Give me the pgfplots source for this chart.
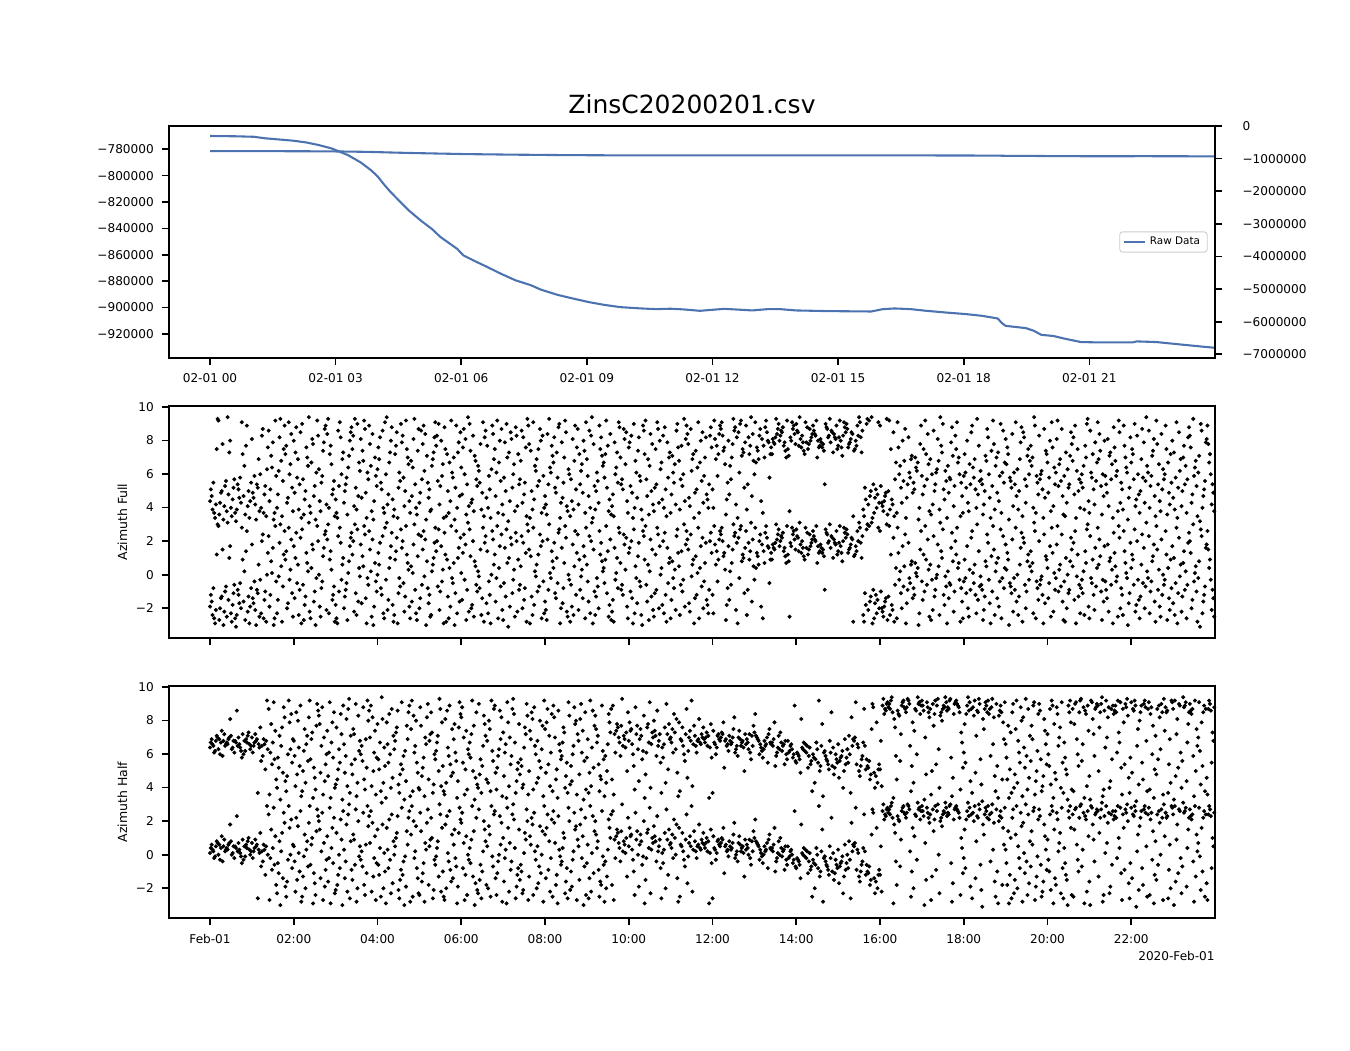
\documentclass[border=0pt]{standalone}
\usepackage{fontspec}
\setmainfont{DejaVu Sans}
\usepackage{pgfplots}
\usepackage{pgfplotstable}
\pgfplotsset{compat=1.18}
\definecolor{lineblue}{HTML}{4C72B0}

\pgfplotstableread{
h v
0.00 -769900
0.60 -770100
1.05 -770500
1.30 -771600
1.60 -772400
2.00 -773500
2.30 -774800
2.60 -776800
2.90 -779300
3.05 -781200
3.30 -784500
3.60 -790000
3.85 -796000
4.00 -800500
4.15 -806500
4.30 -812000
4.50 -818500
4.75 -826500
5.05 -834500
5.30 -840500
5.50 -846500
5.70 -851000
5.90 -855500
6.05 -860500
6.30 -864500
6.60 -869000
6.95 -874500
7.30 -879500
7.65 -883000
7.90 -886500
8.30 -890500
8.70 -893500
9.05 -896000
9.40 -898000
9.80 -899800
10.30 -900800
10.65 -901300
11.00 -901000
11.30 -901500
11.70 -902600
12.00 -901800
12.28 -901100
12.57 -901600
12.95 -902300
13.32 -901300
13.61 -901300
13.99 -902300
14.74 -902800
15.79 -903100
16.07 -901300
16.35 -900800
16.73 -901300
17.11 -902600
17.58 -903900
18.06 -905100
18.44 -906400
18.81 -908400
18.91 -911900
19.00 -914000
19.48 -915700
19.67 -917700
19.85 -920800
20.14 -921700
20.42 -923800
20.80 -926300
21.27 -926600
22.03 -926600
22.13 -925800
22.60 -926300
23.07 -927800
23.64 -929600
23.98 -930600
}\rawdata

% Azimuth Full: ten samples per row, one row = 0.2 h
\pgfplotstableread{
c0 c1 c2 c3 c4 c5 c6 c7 c8 c9
-2.4 -2.1 -1.9 3.0 -2.6 -1.2 1.2 -0.8 -2.9 -1.6
-1.4 -2.2 2.9 -0.7 1.5 -2.7 -1.0 -1.3 -3.0 -2.0
1.0 -1.8 -2.5 -0.6 -2.3 3.1 -1.1 1.7 -2.8 -1.5
-0.9 -2.0 -2.6 0.9 -1.7 -3.1 2.8 -1.2 -0.5 -2.4
1.4 -2.9 -1.6 -0.8 -2.2 0.2 -1.9 2.6 -1.3 -2.7
-0.4 -1.1 1.8 -2.5 -3.0 -1.4 0.6 -2.1 -0.9 -1.7
2.4 -2.8 -0.3 1.3 -1.5 -2.3 0.0 -2.6 -1.0 2.0
0.8 -2.6 2.3 -0.4 1.6 -1.9 2.9 0.1 -3.0 -1.2
1.9 -0.7 -2.3 2.6 0.5 -1.5 1.2 3.0 -2.8 -0.1
-1.7 2.1 0.9 -2.5 -0.3 1.4 -1.1 2.8 0.3 -2.0
2.5 -0.9 1.7 -2.9 0.6 -1.4 2.2 -0.5 -2.4 1.0
-1.8 0.2 2.7 -2.2 1.3 -0.6 3.1 -1.3 0.7 -2.7
1.5 -0.2 -2.6 2.0 -1.0 0.4 2.9 -1.6 -3.0 1.8
-0.8 2.4 0.0 -2.1 1.1 -1.9 2.6 -0.4 1.6 -2.5
0.9 -1.2 2.1 -2.8 0.3 3.0 -0.7 1.4 -1.5 -2.3
2.3 -0.3 -1.8 1.0 2.8 -2.6 0.6 -1.0 1.9 -2.9
-0.5 1.7 -2.0 2.5 0.1 -1.3 2.2 -2.7 0.8 -0.9
3.0 -1.6 1.2 -0.1 -2.4 2.0 0.4 -1.1 2.7 -2.2
0.5 -2.9 1.8 -0.6 2.4 -1.7 -0.2 2.9 -1.4 1.1
-2.5 0.7 2.6 -1.0 -3.0 1.5 -0.4 2.1 -1.9 0.2
1.9 -2.3 0.0 2.8 -1.2 1.3 -2.6 -0.8 2.3 0.6
-1.5 2.5 -0.3 -2.8 1.0 3.1 -1.8 0.4 1.7 -2.1
2.2 -0.7 -2.4 1.6 -1.1 0.9 2.7 -2.9 -0.2 1.4
-1.3 0.3 2.0 -2.6 1.2 -0.5 -1.9 2.9 0.7 -2.2
1.8 -2.7 0.5 2.4 -0.9 -1.6 1.1 3.0 -2.3 0.1
-0.6 2.1 -2.0 0.8 2.6 -1.4 -3.0 1.5 -0.1 2.3
-2.5 1.0 -0.8 2.8 0.2 -1.7 1.9 -2.4 0.6 -1.2
2.7 -0.4 1.4 -2.9 -1.0 2.0 0.3 -2.1 1.7 -0.7
0.9 -1.9 2.5 -0.2 -2.6 1.2 2.9 -1.3 0.4 -2.8
-1.1 1.6 -0.5 2.2 -2.3 0.7 -1.6 2.6 1.0 -3.0
2.4 -0.9 0.1 -2.2 1.8 -1.5 3.1 -0.3 -2.7 1.3
-1.8 0.5 2.7 -1.0 -2.5 1.1 -0.6 2.0 0.8 -2.0
1.5 -2.8 0.2 2.3 -1.4 -0.1 1.9 -2.4 2.8 -0.8
-0.4 2.6 -1.7 0.6 -2.9 1.4 2.1 -1.2 0.0 -2.3
2.9 -0.7 1.2 -2.1 0.4 -1.6 2.4 -2.6 1.7 -0.2
-1.3 1.0 -2.7 2.2 0.7 -0.5 -1.9 2.7 -3.1 1.6
0.3 -2.2 1.8 -0.9 2.5 -1.1 0.9 -2.5 2.0 -0.3
-2.0 1.3 -0.6 3.0 -1.5 0.5 -2.8 1.9 -0.8 2.3
1.1 -1.8 2.6 -0.1 -2.4 1.5 0.2 -1.3 2.8 -2.9
-0.7 2.0 0.6 -2.3 1.7 -1.0 -0.4 2.4 -2.6 1.2
2.1 -0.2 -1.6 0.8 3.0 -2.1 1.4 -0.9 0.1 -2.7
-1.4 2.7 0.4 -2.0 -0.5 1.9 -2.9 1.0 2.5 -1.1
0.7 -2.5 1.6 -0.3 2.2 -1.7 0.0 2.9 -2.2 -0.8
1.8 -1.2 -2.8 2.4 0.5 -0.6 1.3 -2.4 2.6 -1.9
-0.1 1.1 -2.1 2.8 -1.4 0.9 -2.6 0.3 1.7 -0.9
2.3 -2.9 0.6 -1.0 2.0 -0.4 1.5 -2.3 3.1 -1.6
-0.7 1.9 -2.4 0.2 2.6 -1.3 0.8 -2.0 1.2 -0.2
2.9 -1.8 0.4 -2.7 1.4 -0.5 2.1 -1.1 -2.5 0.9
1.6 -0.8 -2.2 2.5 0.1 -1.5 2.8 -0.3 1.0 -2.8
-1.2 2.2 0.7 -2.6 1.8 -0.9 -1.9 2.4 0.3 -0.6
2.0 -2.3 1.3 -0.2 -2.9 1.6 0.5 -1.4 2.7 -1.0
-0.4 2.6 -1.7 0.9 -2.4 1.1 2.3 -0.7 -3.0 1.9
0.6 -1.3 2.9 -2.1 0.2 -0.6 1.5 -2.7 2.1 -1.6
-0.9 1.7 -2.5 0.4 2.4 -1.1 0.0 2.8 -2.0 1.2
2.5 -0.5 -1.8 1.0 -2.8 2.0 0.7 -1.2 1.6 -2.3
-0.2 2.3 -2.6 1.3 0.3 -1.5 2.7 -0.8 -2.1 0.8
1.4 -1.9 0.5 2.6 -0.3 -2.4 1.8 -1.0 3.0 -0.6
-2.2 0.9 2.1 -1.4 -0.1 1.5 -2.9 2.4 0.6 -1.7
2.8 -0.7 1.1 -2.0 0.4 -1.2 2.2 -2.6 1.7 0.1
-1.5 2.0 -0.4 1.3 -2.3 0.7 2.5 -1.8 -0.9 1.9
1.8 0.9 -1.2 2.6 1.4 -2.3 2.1 0.6 -0.4 2.9
1.1 -1.8 2.4 1.7 0.3 2.8 -0.8 1.3 -2.7 2.0
0.7 2.5 -1.5 1.9 3.0 0.2 -2.1 1.5 2.3 -0.6
2.7 1.0 -2.9 1.6 0.8 2.2 -1.1 2.9 1.2 -0.2
1.9 -1.6 2.6 0.5 1.4 -2.4 2.1 0.9 3.1 -0.9
1.3 2.4 -0.3 1.8 0.6 2.8 -1.9 1.1 2.0 0.4
2.5 1.6 -2.6 0.9 2.2 1.4 -0.5 2.9 1.7 0.7
1.6 2.1 1.3 2.7 1.9 0.9 2.4 1.5 3.0 1.8
2.2 1.1 1.7 2.9 1.4 2.0 0.7 2.5 1.6 2.3
1.9 2.6 1.2 1.5 2.8 0.8 2.1 1.7 2.4 -2.5
1.4 2.0 2.7 1.1 1.8 2.3 1.6 3.1 1.3 2.2
2.5 1.7 0.9 2.1 1.5 2.8 1.9 1.2 2.4 1.6
2.0 1.3 2.6 1.8 0.7 2.3 1.4 2.9 1.7 2.1
1.1 2.4 1.6 2.0 2.7 1.3 1.9 -0.9 2.5 1.5
2.2 1.8 3.0 1.2 2.1 1.6 2.6 1.0 1.9 2.3
1.7 2.8 1.4 2.2 0.8 1.9 2.5 1.3 2.0 2.9
1.5 2.1 2.7 1.1 1.8 2.4 -2.8 1.6 2.2 1.3
2.6 1.9 1.2 2.3 3.1 1.7 1.0 2.0 2.8 1.4
-1.8 2.9 -2.4 -1.3 3.0 -2.8 -1.6 2.7 -2.1 -1.1
-2.6 -1.5 3.1 -2.0 -1.2 -2.9 2.8 -1.7 -2.3 -0.9
-2.2 -1.4 2.6 -2.7 -1.9 -1.0 3.0 -2.5 -1.6 -2.0
1.2 -2.8 -1.3 0.4 -2.1 2.9 -0.6 -1.8 2.2 -2.4
-0.3 1.7 -2.6 0.5 -1.1 2.8 -0.7 0.2 -2.0 1.3
-0.9 0.6 2.4 -1.4 -0.2 -2.9 0.8 1.9 -0.5 -1.7
0.1 -2.3 -0.8 2.6 0.4 -1.2 1.5 -0.1 -3.0 0.7
-1.0 2.1 -0.4 -2.5 0.9 -1.5 0.3 2.9 -0.6 1.2
-2.1 -0.2 0.6 1.8 -1.3 -2.7 0.0 2.3 -0.9 -0.3
1.4 -1.8 0.5 -0.7 2.7 -2.4 -0.1 1.0 -1.2 3.1
-0.5 0.8 -2.9 -1.0 1.6 0.2 -2.2 -0.6 2.5 -1.4
0.4 -0.8 2.0 -2.6 -0.3 1.2 -1.6 0.7 -2.8 2.8
-1.1 0.3 -0.4 2.2 -2.0 0.9 -0.9 1.7 -2.5 -0.2
0.6 -1.5 2.6 -0.7 -2.3 0.1 1.4 -1.2 3.0 -0.5
-2.7 0.5 -0.1 1.9 -1.3 -0.6 2.4 -2.1 0.8 -0.9
1.1 -2.4 -0.3 0.7 2.9 -1.7 0.2 -1.0 1.5 -2.9
-0.4 2.3 -1.4 0.4 -2.6 1.0 -0.8 2.7 -0.2 -1.9
0.9 -1.1 1.8 -2.2 -0.5 0.3 2.1 -3.0 -0.7 1.3
-1.6 0.6 -0.2 2.5 -2.4 -0.9 1.6 0.0 -1.3 2.8
-0.6 1.2 -2.8 0.5 -1.0 2.2 -0.3 -2.0 0.8 1.9
-2.3 -0.4 1.4 -1.5 2.6 0.2 -0.8 3.1 -2.6 0.7
-0.1 -1.7 2.0 0.9 -2.9 -0.6 1.1 -1.2 2.4 -0.3
1.7 -2.2 0.4 -0.9 2.8 -1.4 0.1 -2.5 1.3 -0.5
-1.0 2.4 -0.2 -2.7 0.6 1.8 -1.6 0.3 -0.7 2.9
-2.0 0.8 -0.4 1.5 -1.1 -2.8 2.2 0.0 -0.9 1.0
2.6 -1.3 0.5 -2.3 -0.1 1.9 -0.6 -2.9 1.2 -1.5
0.2 2.7 -0.8 -1.9 1.4 -0.3 3.0 -2.4 0.7 -1.1
-0.5 1.6 -2.6 0.4 -1.2 2.3 -0.7 0.9 -2.1 -0.2
1.1 -1.6 2.8 -0.4 -2.7 0.6 1.7 -1.0 -0.3 2.1
-2.2 0.3 -0.9 2.5 1.0 -1.4 -2.9 0.8 -0.6 1.8
-0.1 -2.0 1.3 -1.2 2.9 0.5 -0.8 -2.5 2.2 -0.4
0.7 -1.7 -2.4 1.9 -0.2 2.6 -1.1 0.1 -3.0 1.4
-0.6 2.0 0.4 -1.5 -2.2 1.2 -0.3 2.7 -1.8 0.9
2.4 -0.7 -2.6 0.2 1.6 -1.3 3.1 -0.5 -2.0 0.6
-1.0 1.8 -0.2 -2.8 0.8 2.3 -1.6 -0.4 1.1 -2.3
0.3 -1.2 2.9 -0.6 -2.5 1.5 0.0 -1.9 2.1 -0.9
-2.7 0.9 -0.3 1.7 -1.4 2.6 -0.8 0.4 -2.1 1.2
-0.5 2.2 -1.7 0.6 -2.9 1.0 -0.1 2.8 -1.1 -2.4
1.4 -0.6 -2.2 2.5 0.2 -1.3 1.9 -0.9 -2.6 0.7
-1.5 0.5 2.0 -2.8 -0.4 1.3 -1.0 3.0 0.1 -2.0
2.7 -1.2 -0.2 1.6 -2.3 0.8 -0.7 2.3 -1.6 -3.1
0.4 -0.9 1.8 -2.5 -0.3 2.6 -1.4 0.9 -2.1 1.5
}\azfull

% Azimuth Half: ten samples per row, one row = 0.2 h
\pgfplotstableread{
c0 c1 c2 c3 c4 c5 c6 c7 c8 c9
0.3 0.5 0.1 0.7 -0.2 0.4 0.8 0.2 -0.1 0.6
0.4 0.9 0.0 0.3 -0.4 0.6 0.2 1.1 0.5 -0.3
0.7 0.1 0.4 -0.2 0.8 0.3 0.5 1.8 0.0 0.6
0.2 -0.1 0.5 0.9 0.3 0.4 -0.5 0.7 0.1 2.3
0.6 0.3 -0.3 0.2 0.8 0.5 0.0 0.4 1.0 -0.1
0.4 -2.6 0.7 0.1 0.5 -0.2 0.3 0.9 0.6 0.2
-0.4 0.5 1.3 0.0 0.3 -0.7 2.9 0.6 -1.2 0.2
1.5 -0.6 2.4 -1.8 0.4 -2.7 1.1 -0.9 2.8 -0.2
0.8 -1.4 -2.3 1.9 0.2 -0.5 2.5 -3.0 1.3 -1.1
-0.3 2.1 -1.9 0.6 1.6 -2.5 -0.8 2.9 0.0 -1.6
2.2 -1.0 0.5 -2.8 1.7 -0.4 2.6 -1.5 0.1 -2.2
1.2 -0.7 -2.5 2.9 0.3 -1.3 1.9 -2.0 0.8 -0.1
-2.9 1.4 -0.6 2.3 -1.7 0.6 2.7 -1.1 -2.4 1.0
0.2 -1.9 2.0 -0.3 -2.7 1.5 -0.9 2.5 0.7 -1.4
2.8 -0.5 1.1 -2.3 0.4 -1.6 2.2 -2.9 1.6 -0.2
-1.2 0.9 -2.1 2.6 -0.8 1.3 -3.0 0.0 2.1 -1.8
1.8 -2.6 0.3 -0.9 2.4 -1.4 0.8 -2.2 3.0 -0.4
-0.6 2.0 -1.5 0.5 -2.8 1.2 -0.1 2.7 -2.0 0.9
2.5 -1.1 -0.3 1.7 -2.4 0.2 2.9 -1.8 0.6 -0.7
-2.2 1.1 2.3 -0.5 -1.3 0.7 -2.7 1.9 -0.2 2.6
0.4 -2.0 1.5 -1.0 3.1 -0.6 0.1 -2.5 1.8 -1.2
-0.8 2.4 -2.9 0.8 -0.3 1.6 -1.7 2.1 -2.3 0.3
1.3 -1.5 0.0 2.8 -2.1 0.5 -0.9 2.3 -2.6 1.0
-0.1 2.2 -1.2 -2.8 1.4 -0.4 2.6 -1.9 0.6 -3.0
2.0 -0.8 1.2 -2.3 0.2 2.9 -1.4 -0.2 1.7 -2.5
-1.6 0.7 -2.4 1.9 -0.5 2.5 0.3 -1.1 -2.8 1.4
0.9 -2.1 2.7 -0.6 1.0 -1.8 -0.3 2.2 -2.6 0.5
-1.3 1.6 -0.1 -2.5 2.4 0.4 -1.0 3.0 -2.2 0.8
2.3 -0.9 -2.7 1.2 -0.4 1.8 -1.6 0.1 2.6 -2.0
-0.2 1.3 -1.4 2.1 -2.9 0.6 2.8 -0.7 -1.9 1.5
0.7 -2.4 1.9 -0.3 -1.2 2.5 0.0 -2.7 1.1 -0.8
2.9 -1.7 0.4 -2.1 1.4 -0.5 2.2 -1.3 -3.0 0.9
-0.6 2.0 -2.3 0.8 -1.0 2.7 1.5 -2.6 0.2 -1.5
1.7 -0.1 -1.8 2.4 -2.5 0.5 -0.7 1.2 2.9 -2.0
-1.1 0.6 2.6 -2.8 0.0 -1.4 1.9 -0.4 2.3 -2.4
0.3 -2.2 1.0 -0.9 2.8 -1.6 0.7 -2.9 1.6 -0.2
2.1 -1.2 -0.4 1.5 -2.6 2.4 -0.8 0.4 -1.9 3.0
-2.3 0.9 -1.5 2.0 0.1 -0.6 2.7 -2.1 1.3 -1.0
0.6 2.5 -2.7 -0.3 1.8 -1.3 0.2 2.2 -2.4 1.1
-0.7 1.4 -2.0 2.9 -1.1 0.5 -2.8 1.7 0.0 -1.7
2.4 -0.2 1.2 -2.5 0.8 -1.4 2.1 -0.9 -2.2 1.6
-1.8 0.3 2.6 -0.6 -2.9 1.9 -0.1 -1.2 2.3 0.7
1.0 -2.6 -0.4 2.0 -1.6 0.4 2.8 -2.3 -0.8 1.3
-0.3 1.7 -2.1 0.9 2.5 -1.0 -2.7 0.2 1.5 -1.9
2.7 -0.7 0.5 -2.4 1.1 -1.5 2.2 -0.2 -3.0 1.8
-1.4 2.3 -0.5 1.4 -2.2 0.6 -1.1 2.9 0.1 -2.6
0.8 -1.8 2.0 -0.1 -2.5 1.2 2.6 -0.9 -1.6 0.4
-2.0 1.6 -0.6 2.4 0.3 -2.8 1.0 -1.3 2.1 -0.4
0.9 1.3 -1.8 0.4 1.1 2.6 0.7 -0.2 1.5 -2.7
0.2 1.0 -0.4 2.2 0.6 1.4 -1.3 0.8 0.1 3.0
1.2 -2.4 0.5 0.9 -0.3 1.6 2.5 0.3 -1.0 1.1
0.6 -0.1 1.4 -2.9 0.8 0.0 2.0 1.2 -0.6 -1.9
1.5 0.3 -1.5 0.7 2.8 -0.2 1.0 0.4 -2.3 1.3
-0.4 0.9 1.7 -2.6 0.2 1.1 -0.8 2.3 0.5 0.8
1.3 -1.2 0.1 0.6 2.7 -0.5 1.5 -2.0 0.9 0.3
-0.2 1.8 0.7 -2.8 1.0 0.4 -1.4 2.1 0.0 1.2
0.5 -0.7 1.6 2.4 0.2 -2.5 0.9 1.3 -0.3 0.6
1.1 0.3 -1.7 0.8 2.9 -0.1 1.4 0.5 -2.2 0.7
0.6 0.9 0.2 1.3 0.4 -0.2 0.7 1.8 0.3 0.5
1.0 0.1 0.6 -0.5 0.8 0.4 1.5 0.2 -2.9 0.7
0.3 0.9 -2.6 0.5 0.1 1.1 0.6 -0.3 0.8 0.4
1.6 0.2 0.7 -0.1 0.5 1.0 0.3 -1.1 0.6 0.9
0.4 -0.2 0.8 0.2 1.2 0.5 0.0 0.7 1.9 0.3
0.6 0.1 -0.4 0.9 0.4 0.7 -1.3 0.2 0.5 1.1
0.0 0.8 0.3 1.4 -0.2 0.6 0.2 0.9 -0.6 0.4
0.7 0.3 1.0 -0.1 0.5 2.1 0.1 0.6 -0.3 0.8
0.2 0.9 -0.5 0.4 0.7 0.0 1.2 0.3 -0.8 0.5
0.6 -0.2 0.3 0.8 -1.0 0.4 0.1 1.6 -0.4 0.2
-0.1 0.5 0.0 -0.6 0.3 1.0 -0.3 0.2 -0.9 0.4
0.2 -0.3 0.5 -0.7 0.0 -0.2 2.6 0.3 -0.5 -0.1
-0.4 0.1 -0.8 0.4 -1.4 -0.2 0.0 -0.6 1.8 -0.3
0.2 -0.9 -0.1 -2.5 -0.4 0.3 -0.7 -1.1 0.1 -0.2
-0.6 2.9 -0.3 -1.0 0.0 -0.5 -1.3 0.4 -0.8 -2.0
-0.2 -0.7 0.2 -1.2 -0.4 1.5 -0.9 -0.1 -0.6 -2.8
-1.0 -0.3 0.5 -0.8 -1.5 -0.2 -0.6 0.1 -1.1 2.2
-0.5 -1.3 0.3 -0.9 -0.1 -1.7 0.6 -0.4 -2.3 -0.7
0.8 0.2 -0.5 0.5 -2.6 0.0 0.6 -0.3 1.9 -0.8
0.3 -1.0 0.7 -0.4 -1.3 2.8 -0.6 0.1 -1.6 -0.9
-1.2 -0.7 0.4 -1.5 -1.0 2.4 -1.8 -0.6 -1.1 0.2
-1.4 -2.0 1.2 -0.9 -1.6 2.7 -1.2 -2.3 1.6 2.5
2.6 2.3 -1.2 2.8 2.1 0.5 2.7 3.0 2.4 -2.2
2.9 1.8 2.5 -0.4 2.2 2.7 1.3 3.1 -2.9 2.4
2.0 2.8 -1.8 2.5 0.9 2.3 2.9 -0.7 2.6 2.1
3.0 -2.5 2.4 1.6 2.7 2.2 -1.0 2.9 0.2 2.5
2.3 2.8 -2.0 2.6 3.1 1.1 2.1 -0.3 2.7 2.4
-3.0 2.5 2.9 1.9 -1.5 2.6 2.2 0.7 2.8 2.3
2.7 -0.9 2.4 3.0 2.1 -2.7 2.6 1.4 2.9 -1.3
2.2 2.5 0.0 2.8 2.4 -2.3 3.1 1.7 2.6 2.0
2.9 -1.7 2.3 2.7 -0.5 2.5 2.1 3.0 -2.8 2.4
2.6 1.0 2.8 -1.1 2.2 2.9 0.4 2.5 -2.4 2.7
2.1 2.8 -0.2 2.4 3.1 1.5 -1.9 2.6 2.3 -0.8
2.9 2.2 -2.6 2.7 0.8 2.5 3.0 -1.4 2.3 2.0
1.8 2.6 -0.6 2.9 2.4 -2.1 2.2 1.2 2.8 -3.1
2.5 -1.6 2.1 2.7 0.3 2.4 -2.5 3.0 1.9 -0.4
2.3 1.6 -1.0 2.8 2.2 -2.9 0.6 2.6 -1.8 2.0
1.4 -2.6 0.3 2.7 -1.2 -0.5 2.2 -2.9 1.0 -1.8
2.9 -0.8 -2.3 1.7 0.5 -1.5 2.5 -2.0 -0.2 1.2
-1.1 2.4 -2.8 0.8 -0.4 1.9 -1.7 3.0 -2.4 0.1
2.6 -1.3 -0.7 2.1 -2.7 1.4 -0.1 2.8 -1.9 0.6
-2.5 1.1 2.7 -0.9 -1.6 2.3 0.3 -2.2 1.8 -0.6
2.4 -2.9 0.9 -1.4 2.9 -0.3 1.5 -2.1 2.6 -1.0
0.2 2.8 -1.8 -2.6 1.3 2.5 -0.8 0.7 -2.3 2.1
-1.5 2.9 0.4 -2.4 2.6 -0.5 1.6 -3.0 2.2 -1.2
2.7 -1.0 2.4 2.9 0.6 -2.5 2.2 2.8 -0.3 1.5
2.5 -2.2 3.0 1.1 2.3 -0.7 2.6 -2.9 2.1 0.3
2.8 2.4 -1.6 2.7 0.9 -3.0 2.5 1.8 -0.4 2.9
2.2 -2.4 2.6 0.1 3.1 -1.3 2.3 2.7 -2.8 1.3
2.5 -0.6 2.9 2.1 -1.9 0.7 2.6 -2.3 2.4 1.9
-0.2 2.8 2.3 -2.7 1.0 2.6 -1.1 2.9 0.4 2.2
2.7 -1.7 2.4 -0.5 3.0 1.6 -2.6 2.5 2.0 -0.9
2.3 0.2 2.8 -2.1 2.6 -1.4 1.2 2.9 -3.1 2.4
-0.8 2.5 1.7 -2.5 2.7 2.2 0.5 -1.8 2.9 2.6
2.1 -2.9 2.4 0.8 -0.3 2.8 -1.2 2.5 1.4 -2.4
2.6 2.2 -1.5 3.0 0.0 2.4 -2.7 1.9 2.7 -0.6
2.3 -2.0 1.1 2.8 -0.9 2.5 2.9 -2.6 0.6 2.2
-1.6 2.7 2.4 -0.2 1.8 -3.0 2.6 0.9 -1.1 2.9
2.5 0.4 -2.3 2.2 2.8 -0.7 1.5 2.6 -1.9 3.1
2.4 -1.3 2.7 0.2 -2.8 2.3 1.2 -0.4 2.9 2.1
-2.1 2.6 0.7 2.4 -1.0 2.8 -2.5 1.6 2.2 -0.1
2.9 1.0 -1.7 2.5 2.3 -2.7 0.5 2.7 -0.8 2.4
}\azhalf

\pgfplotsset{
  panel/.style={
    scale only axis, width=502.08pt, height=111.36pt, anchor=south west,
    xmin=-0.98, xmax=24.0,
    scaled x ticks=false, scaled y ticks=false,
    axis line style={line width=0.8pt},
    tick align=outside, major tick length=3.4pt,
    every tick/.style={black, line width=0.8pt},
    ticklabel style={font=\fontsize{5.8}{7}\selectfont},
    xticklabel style={anchor=base, yshift=-8.6pt},
    yticklabel style={anchor=east, xshift=-0.4pt},
    /pgf/number format/assume math mode=true,
    xtick pos=left, ytick pos=left,
  },
  dots/.style={only marks, mark=*, black, mark size=0.75pt, mark options={draw=black, fill=black}},
  azlabel/.style={ylabel style={at={(axis description cs:-0.0444,0.5)}, anchor=center, font=\fontsize{6}{7}\selectfont}},
}

% one column of a table: the sample itself and the same sample + 2 pi
% #1 table, #2 column, #3 position of that column inside its 0.2 h row
\newcommand{\azpair}[3]{%
  \addplot[dots] table[x expr=\coordindex*0.2+#3*0.02, y index=#2] {#1};
  \addplot[dots] table[x expr=\coordindex*0.2+#3*0.02, y expr=\thisrowno{#2}+6.2832] {#1};
}

\begin{document}
\begin{tikzpicture}
\useasboundingbox (0,0) rectangle (648pt,504pt);

% ---- top panel, left axis ----
\begin{axis}[panel, at={(81.12pt,332.16pt)},
  ymin=-938400, ymax=-762300,
  xtick={0,3,6,9,12,15,18,21},
  xticklabels={02-01 00,02-01 03,02-01 06,02-01 09,02-01 12,02-01 15,02-01 18,02-01 21},
  ytick={-920000,-900000,-880000,-860000,-840000,-820000,-800000,-780000},
  yticklabels={−920000,−900000,−880000,−860000,−840000,−820000,−800000,−780000},
  title={ZinsC20200201.csv},
  title style={at={(axis description cs:0.5,1)}, anchor=base, yshift=0pt, font=\fontsize{12}{14}\selectfont},
]
\addplot[lineblue, line width=1pt] table[x=h, y=v] {\rawdata};
\end{axis}

% ---- top panel, right axis ----
\begin{axis}[panel, at={(81.12pt,332.16pt)},
  ymin=-7113000, ymax=0,
  axis y line*=right, axis x line=none,
  ytick pos=right,
  ytick={-7000000,-6000000,-5000000,-4000000,-3000000,-2000000,-1000000,0},
  yticklabels={−7000000,−6000000,−5000000,−4000000,−3000000,−2000000,−1000000,0},
  yticklabel style={anchor=west, xshift=6.7pt},
  legend style={at={(0.993,0.5)}, anchor=east, font=\fontsize{5}{6}\selectfont,
    draw=black!20, rounded corners=1.5pt, inner xsep=1.5pt, inner ysep=0.3pt, row sep=0pt},
  legend cell align=left,
  legend image code/.code={\draw[#1] (0pt,0pt) -- (10pt,0pt);},
]
\addplot[lineblue, line width=1pt] table[x=h, y=v] {\rawdata};
\addlegendentry{Raw Data}
\end{axis}

% ---- middle panel ----
\begin{axis}[panel, azlabel, at={(81.12pt,197.76pt)},
  ymin=-3.77, ymax=10.05,
  xtick={0,2,4,6,8,10,12,14,16,18,20,22}, xticklabels={},
  ytick={-2,0,2,4,6,8,10}, yticklabels={−2,0,2,4,6,8,10},
  ylabel={Azimuth Full},
]
\azpair{\azfull}{0}{3}
\azpair{\azfull}{1}{7}
\azpair{\azfull}{2}{0}
\azpair{\azfull}{3}{9}
\azpair{\azfull}{4}{5}
\azpair{\azfull}{5}{1}
\azpair{\azfull}{6}{8}
\azpair{\azfull}{7}{4}
\azpair{\azfull}{8}{6}
\azpair{\azfull}{9}{2}
\end{axis}

% ---- bottom panel ----
\begin{axis}[panel, azlabel, at={(81.12pt,63.36pt)},
  ymin=-3.77, ymax=10.05,
  xtick={0,2,4,6,8,10,12,14,16,18,20,22},
  xticklabels={Feb-01,02:00,04:00,06:00,08:00,10:00,12:00,14:00,16:00,18:00,20:00,22:00},
  ytick={-2,0,2,4,6,8,10}, yticklabels={−2,0,2,4,6,8,10},
  ylabel={Azimuth Half},
]
\azpair{\azhalf}{0}{3}
\azpair{\azhalf}{1}{7}
\azpair{\azhalf}{2}{0}
\azpair{\azhalf}{3}{9}
\azpair{\azhalf}{4}{5}
\azpair{\azhalf}{5}{1}
\azpair{\azhalf}{6}{8}
\azpair{\azhalf}{7}{4}
\azpair{\azhalf}{8}{6}
\azpair{\azhalf}{9}{2}
\end{axis}
\node[anchor=base east, inner sep=0pt, font=\fontsize{5.8}{7}\selectfont] at (583.2pt,42.96pt) {2020-Feb-01};
\end{tikzpicture}
\end{document}
